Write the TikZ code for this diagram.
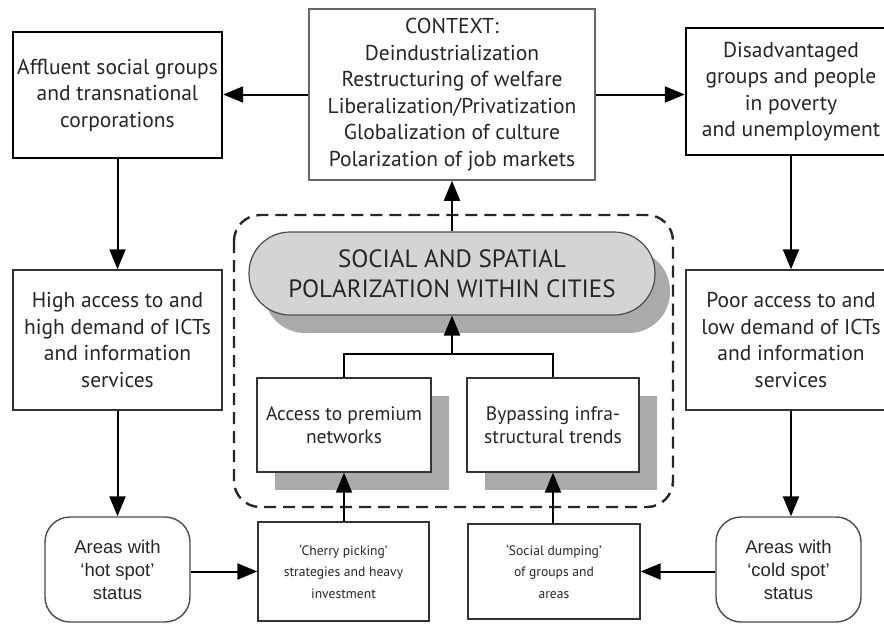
\documentclass[tikz,border=0pt]{standalone}
\usepackage{fontspec}
\setmainfont{PT Sans}
\newfontfamily\arialf{Liberation Sans}
\usetikzlibrary{arrows.meta,shadows,calc}
\definecolor{pillfill}{HTML}{D4D4D4}
\definecolor{shadowgray}{HTML}{AAAAAA}
\definecolor{txt}{HTML}{262626}
\begin{document}
\begin{tikzpicture}[x=1pt,y=-1pt,
  box/.style={draw=black!80,line width=1.4pt,fill=white,inner sep=0pt,align=center,text=txt},
  thickbox/.style={box,draw=black,line width=2.4pt},
  bigtxt/.style={font=\fontsize{21.5}{26.5}\selectfont},
  midtxt/.style={font=\fontsize{19.5}{23}\selectfont},
  smalltxt/.style={font=\fontsize{13.6}{21.5}\selectfont},
  areabox/.style={box,draw=black!70,rounded corners=25pt,font=\arialf\fontsize{18.5}{23}\selectfont},
  shadowbox/.style={box,drop shadow={shadow xshift=18pt,shadow yshift=-18pt,fill=shadowgray,opacity=1}},
  arr/.style={draw=black,line width=2pt,-{Triangle[length=20pt,width=16pt]}},
  plain/.style={draw=black,line width=2pt}
]
\useasboundingbox (0,0) rectangle (884,624);
% dashed frame
\draw[draw=black!85,line width=2.4pt,dash pattern=on 12pt off 7pt,rounded corners=26pt] (234,215) rectangle (673,507);
% top row
\node[box,draw=black!60,line width=1.6pt,bigtxt,minimum width=286pt,minimum height=171pt] (ctx) at (452,94.5)
  {CONTEXT:\\Deindustrialization\\Restructuring of welfare\\Liberalization/Privatization\\Globalization of culture\\Polarization of job markets};
\node[thickbox,bigtxt,minimum width=209pt,minimum height=126pt] (aff) at (117.5,95)
  {Affluent social groups\\and transnational\\corporations};
\node[thickbox,bigtxt,minimum width=210pt,minimum height=127pt] (dis) at (791,91.5)
  {Disadvantaged\\groups and people\\in poverty\\and unemployment};
% middle row
\node[box,bigtxt,minimum width=209pt,minimum height=140pt] (high) at (117.5,340)
  {High access to and\\high demand of ICTs\\and information\\services};
\node[box,bigtxt,minimum width=210pt,minimum height=140pt] (poor) at (791,340)
  {Poor access to and\\low demand of ICTs\\and information\\services};
\node[box,draw=black!70,line width=1.2pt,fill=pillfill,rounded corners=41pt,
  font=\fontsize{25}{30}\selectfont,minimum width=406pt,minimum height=83pt,
  drop shadow={shadow xshift=15pt,shadow yshift=-18pt,fill=shadowgray,opacity=1}] (pol) at (452,273.5)
  {SOCIAL AND SPATIAL\\POLARIZATION WITHIN CITIES};
\node[shadowbox,midtxt,line width=1.3pt,minimum width=174pt,minimum height=94pt] (acc) at (344,425)
  {Access to premium\\networks};
\node[shadowbox,midtxt,line width=1.3pt,minimum width=172pt,minimum height=94pt] (byp) at (553,425)
  {Bypassing infra-\\structural trends};
% bottom row
\node[areabox,minimum width=145pt,minimum height=105pt] (hot) at (117.5,569.5)
  {Areas with\\‘hot spot’\\status};
\node[areabox,minimum width=145pt,minimum height=105pt] (cold) at (788.5,569.5)
  {Areas with\\‘cold spot’\\status};
\node[box,smalltxt,line width=1.3pt,minimum width=171pt,minimum height=99pt] (cher) at (343.5,571.5)
  {‘Cherry picking’\\strategies and heavy\\investment};
\node[box,smalltxt,line width=1.3pt,minimum width=172pt,minimum height=95pt] (dump) at (554,571.5)
  {‘Social dumping’\\of groups and\\areas};
% connectors
\coordinate (j) at (452,354);
\draw[arr] (ctx.west) -- (ctx.west -| aff.east);
\draw[arr] (ctx.east) -- (ctx.east -| dis.west);
\draw[arr] (aff.south) -- (high.north);
\draw[arr] (dis.south) -- (poor.north);
\draw[arr] (high.south) -- (hot.north);
\draw[arr] (poor.south) -- (poor.south |- cold.north);
\draw[arr] (pol.north) -- (ctx.south);
\draw[plain] (acc.north) |- (j) -| (byp.north);
\draw[arr] (j) -- (pol.south);
\draw[arr] (hot.east |- cher.west) -- (cher.west);
\draw[arr] (cold.west |- dump.east) -- (dump.east);
\draw[arr] (cher.north -| acc.south) -- (acc.south);
\draw[arr] (dump.north -| byp.south) -- (byp.south);
\end{tikzpicture}
\end{document}
